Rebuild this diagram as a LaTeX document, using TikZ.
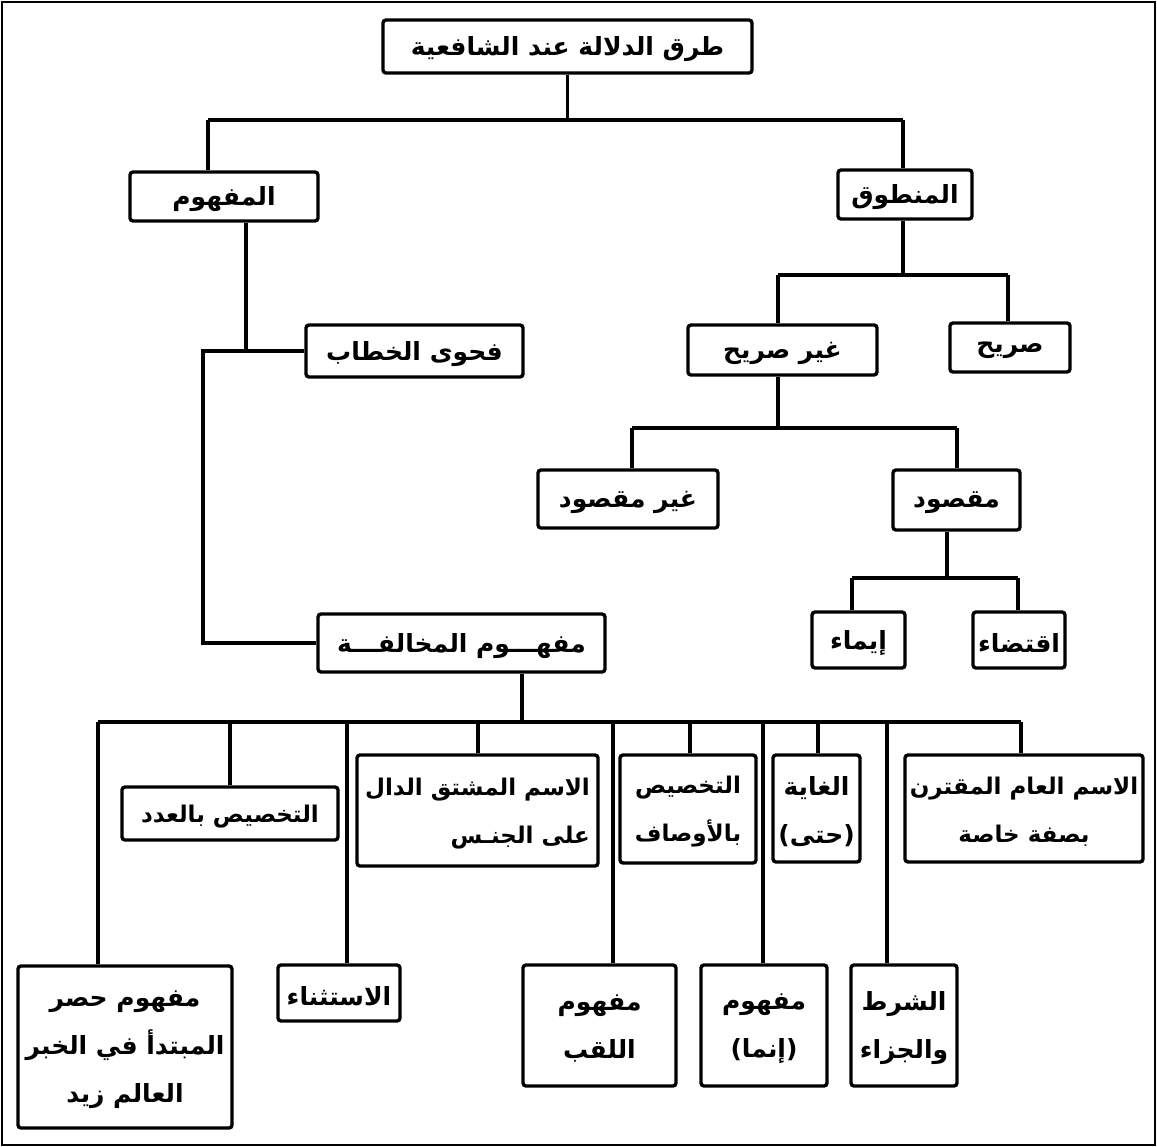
\documentclass[tikz,border=0pt]{standalone}
\usepackage{fontspec}
\newfontfamily\arabicfont[Script=Arabic]{DejaVu Sans}
\TeXXeTstate=1
\newcommand\AR[1]{\raisebox{-3pt}[\height][\depth]{\beginR #1\endR}}
\begin{document}
\begin{tikzpicture}[x=1pt,y=-1pt,
  box/.style={draw, line width=3.4pt, rounded corners=3pt, fill=white, inner sep=0pt,
    font=\arabicfont\bfseries\fontsize{25}{48}\selectfont, align=center},
  smallfont/.style={font=\arabicfont\bfseries\fontsize{23}{48}\selectfont},
  conn/.style={line width=3.4pt}]
\useasboundingbox (0,0) rectangle (1157,1147);
\draw[line width=2.5pt] (2,2) rectangle (1155,1145);
% nodes
\node[box, minimum width=369pt, minimum height=53pt] (top) at (567.5,46.5) {\AR{طرق الدلالة عند الشافعية}};
\node[box, minimum width=188pt, minimum height=49pt] (mafhum) at (224,196.5) {\AR{المفهوم}};
\node[box, minimum width=134pt, minimum height=49pt] (mantuq) at (905,194.5) {\AR{المنطوق}};
\node[box, minimum width=217pt, minimum height=52pt] (fahwa) at (414.5,351) {\AR{فحوى الخطاب}};
\node[box, minimum width=189pt, minimum height=50pt] (gsarih) at (782.5,350) {\AR{غير صريح}};
\node[box, minimum width=120pt, minimum height=49pt] (sarih) at (1010,347.5) {\AR{صريح}};
\node[box, minimum width=180pt, minimum height=58pt] (gmaqsud) at (628,499) {\AR{غير مقصود}};
\node[box, minimum width=127pt, minimum height=60pt] (maqsud) at (956.5,500) {\AR{مقصود}};
\node[box, minimum width=93pt, minimum height=56pt] (ima) at (858.5,640) {\AR{إيماء}};
\node[box, minimum width=92pt, minimum height=56pt] (iqtida) at (1019,640) {\AR{اقتضاء}};
\node[box, minimum width=287pt, minimum height=58pt] (mukh) at (461.5,643) {\AR{مفهـــوم المخالفـــة}};
\node[box, smallfont, minimum width=216pt, minimum height=53pt] (adad) at (230,813.5) {\AR{التخصيص بالعدد}};
\node[box, smallfont, minimum width=241pt, minimum height=111pt, align=right] (mushtaq) at (477.5,810.5) {\AR{الاسم المشتق الدال}\\\AR{على الجنـس}};
\node[box, smallfont, minimum width=136pt, minimum height=108pt] (awsaf) at (688,809) {\AR{التخصيص}\\\AR{بالأوصاف}};
\node[box, minimum width=87pt, minimum height=107pt] (ghaya) at (816.5,808.5) {\AR{الغاية}\\\AR{(حتى)}};
\node[box, smallfont, minimum width=238pt, minimum height=107pt] (aam) at (1024,808.5) {\AR{الاسم العام المقترن}\\\AR{بصفة خاصة}};
\node[box, minimum width=214pt, minimum height=162pt] (hasr) at (125,1047) {\AR{مفهوم حصر}\\\AR{المبتدأ في الخبر}\\\AR{العالم زيد}};
\node[box, minimum width=122pt, minimum height=56pt] (istithna) at (339,993) {\AR{الاستثناء}};
\node[box, minimum width=153pt, minimum height=121pt] (laqab) at (599.5,1025.5) {\AR{مفهوم}\\\AR{اللقب}};
\node[box, minimum width=126pt, minimum height=121pt] (innama) at (764,1025.5) {\AR{مفهوم}\\\AR{(إنما)}};
\node[box, minimum width=106pt, minimum height=121pt] (shart) at (904,1025.5) {\AR{الشرط}\\\AR{والجزاء}};
% junction coordinates
\coordinate (b1L) at (208,120);
\coordinate (b1R) at (903,120);
\coordinate (mafX) at (246,0);
\coordinate (b2L) at (203,0);
\coordinate (b3L) at (778,275);
\coordinate (b3R) at (1008,275);
\coordinate (b3M) at (903,275);
\coordinate (b4L) at (632,428);
\coordinate (b4R) at (957,428);
\coordinate (b4M) at (778,428);
\coordinate (b5L) at (852,578);
\coordinate (b5R) at (1018,578);
\coordinate (b5M) at (947,578);
\coordinate (b6L) at (98,722);
\coordinate (b6R) at (1021,722);
\coordinate (b6M) at (522,722);
\coordinate (j1) at (230,722);
\coordinate (j2) at (347,722);
\coordinate (j3) at (478,722);
\coordinate (j4) at (613,722);
\coordinate (j5) at (690,722);
\coordinate (j6) at (763,722);
\coordinate (j7) at (818,722);
\coordinate (j8) at (887,722);
% connectors
\draw[conn] (top.south) -- (top.south |- b1L);
\draw[conn] (b1L) -- (b1R);
\draw[conn] (b1L) -- (b1L |- mafhum.north);
\draw[conn] (b1R) -- (b1R |- mantuq.north);
\draw[conn] (mafX |- mafhum.south) -- (mafX |- fahwa.west);
\draw[conn] (fahwa.west) -- (b2L |- fahwa.west) -- (b2L |- mukh.west) -- (mukh.west);
\draw[conn] (b3M |- mantuq.south) -- (b3M);
\draw[conn] (b3L) -- (b3R);
\draw[conn] (b3L) -- (b3L |- gsarih.north);
\draw[conn] (b3R) -- (b3R |- sarih.north);
\draw[conn] (b4M |- gsarih.south) -- (b4M);
\draw[conn] (b4L) -- (b4R);
\draw[conn] (b4L) -- (b4L |- gmaqsud.north);
\draw[conn] (b4R) -- (b4R |- maqsud.north);
\draw[conn] (b5M |- maqsud.south) -- (b5M);
\draw[conn] (b5L) -- (b5R);
\draw[conn] (b5L) -- (b5L |- ima.north);
\draw[conn] (b5R) -- (b5R |- iqtida.north);
\draw[conn] (b6M |- mukh.south) -- (b6M);
\draw[conn] (b6L) -- (b6R);
\draw[conn] (b6L) -- (b6L |- hasr.north);
\draw[conn] (j1) -- (j1 |- adad.north);
\draw[conn] (j2) -- (j2 |- istithna.north);
\draw[conn] (j3) -- (j3 |- mushtaq.north);
\draw[conn] (j4) -- (j4 |- laqab.north);
\draw[conn] (j5) -- (j5 |- awsaf.north);
\draw[conn] (j6) -- (j6 |- innama.north);
\draw[conn] (j7) -- (j7 |- ghaya.north);
\draw[conn] (j8) -- (j8 |- shart.north);
\draw[conn] (b6R) -- (b6R |- aam.north);
\end{tikzpicture}
\end{document}
